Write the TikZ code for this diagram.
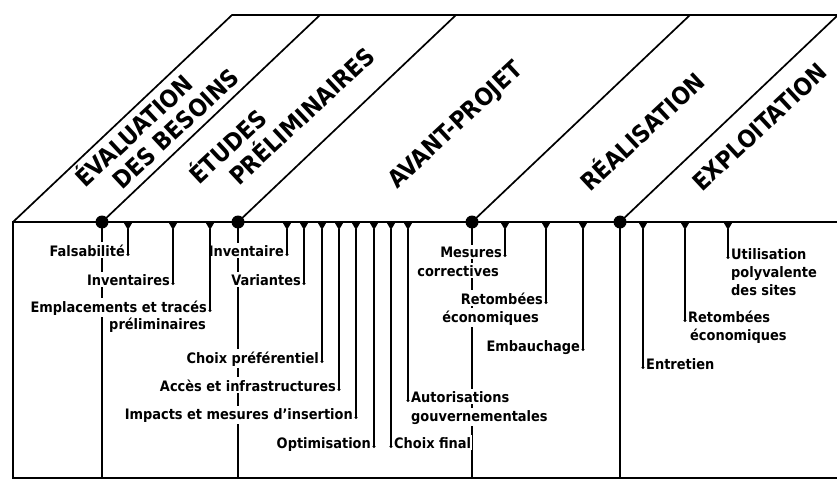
\documentclass[tikz,border=0pt]{standalone}
\usepackage{fontspec}
\setmainfont{DejaVu Sans Condensed}
\usetikzlibrary{arrows.meta}
\begin{document}
\begin{tikzpicture}[x=1pt,y=-1pt,
        frame/.style={line width=2.4pt},
        divider/.style={line width=1.7pt},
        rod/.style={line width=1.2pt},
        milestone/.style={circle, fill=black, minimum size=13pt, inner sep=0pt},
        stage/.style={font=\bfseries\fontsize{24}{28}\selectfont, rotate=43, anchor=base west, inner sep=0pt},
        task/.style={font=\bfseries\fontsize{14.4}{18}\selectfont, fill=white, inner xsep=1pt, inner ysep=2pt},
        stem/.style={line width=1.1pt, {Triangle[reversed, width=9pt, length=8pt]}-{Circle[length=3pt]}},
    ]
    \useasboundingbox[fill=white] (0,0) rectangle (837,481);
    \coordinate (tl) at (13,222);
    \coordinate (tr) at (837,222);
    \coordinate (bl) at (13,478);
    \coordinate (br) at (837,478);
    \coordinate (apex) at (232,15);
    \coordinate (ur) at (837,15);
    \draw[divider] (tl) -- (apex) -- (ur);
    \draw[frame] (tr) -- (tl) -- (bl) -- (br);

    \node[milestone] (m1) at (102,222) {};
    \node[milestone] (m2) at (238,222) {};
    \node[milestone] (m3) at (472,222) {};
    \node[milestone] (m4) at (620,222) {};
    \draw[divider] (m1.center) -- ++(218,-207);
    \draw[divider] (m2.center) -- ++(218,-207);
    \draw[divider] (m3.center) -- ++(218,-207);
    \draw[divider] (m4.center) -- ++(218,-207);
    \draw[rod] (m1.center) -- (m1 |- bl);
    \draw[rod] (m2.center) -- (m2 |- bl);
    \draw[rod] (m3.center) -- (m3 |- bl);
    \draw[rod] (m4.center) -- (m4 |- bl);

    \node[stage] (besoins1) at (85,189) {ÉVALUATION};
    \node[stage] (besoins2) at (122,191) {DES BESOINS};
    \node[stage] (etudes1) at (199,186) {ÉTUDES};
    \node[stage] (etudes2) at (239,187) {PRÉLIMINAIRES};
    \node[stage] (avant) at (397,190) {AVANT-PROJET};
    \node[stage] (realis) at (590,193) {RÉALISATION};
    \node[stage] (exploit) at (702,193) {EXPLOITATION};

    \coordinate (t1) at (128,222);
    \coordinate (t2) at (173,222);
    \coordinate (t3) at (210,222);
    \coordinate (t4) at (287,222);
    \coordinate (t5) at (304,222);
    \coordinate (t6) at (322,222);
    \coordinate (t7) at (339,222);
    \coordinate (t8) at (356,222);
    \coordinate (t9) at (374,222);
    \coordinate (t10) at (391,222);
    \coordinate (t11) at (408,222);
    \coordinate (t12) at (505,222);
    \coordinate (t13) at (546,222);
    \coordinate (t14) at (583,222);
    \coordinate (t15) at (643,222);
    \coordinate (t16) at (685,222);
    \coordinate (t17) at (728,222);

    \node[task, anchor=base east, xshift=-2pt] (falsab) at (t1 |- 0,256) {Falsabilité};
    \node[task, anchor=base east, xshift=-2pt] (inventaires) at (t2 |- 0,285) {Inventaires};
    \node[task, anchor=base east, xshift=-2pt] (emplac) at (t3 |- 0,312) {Emplacements et tracés};
    \node[task, anchor=base east] (emplac2) at ([xshift=-1pt, yshift=-17pt]emplac.base east) {préliminaires};
    \node[task, anchor=base east, xshift=-2pt] (inventaire) at (t4 |- 0,256) {Inventaire};
    \node[task, anchor=base east, xshift=-2pt] (variantes) at (t5 |- 0,285) {Variantes};
    \node[task, anchor=base east, xshift=-2pt] (choixpref) at (t6 |- 0,363) {Choix préférentiel};
    \node[task, anchor=base east, xshift=-2pt] (acces) at (t7 |- 0,391) {Accès et infrastructures};
    \node[task, anchor=base east, xshift=-2pt] (impacts) at (t8 |- 0,419) {Impacts et mesures d'insertion};
    \node[task, anchor=base east, xshift=-2pt] (optim) at (t9 |- 0,448) {Optimisation};
    \node[task, anchor=base west, xshift=2pt] (choixfin) at (t10 |- 0,448) {Choix final};
    \node[task, anchor=base west, xshift=2pt] (autoris) at (t11 |- 0,402) {Autorisations};
    \node[task, anchor=base west] (autoris2) at ([yshift=-19pt]autoris.base west) {gouvernementales};
    \node[task, anchor=base east, xshift=-2pt] (mesures) at (t12 |- 0,257) {Mesures};
    \node[task, anchor=base east] (mesures2) at ([xshift=-3pt, yshift=-19pt]mesures.base east) {correctives};
    \node[task, anchor=base east, xshift=-2pt] (retomb) at (t13 |- 0,304) {Retombées};
    \node[task, anchor=base east] (retomb2) at ([xshift=-4pt, yshift=-18pt]retomb.base east) {économiques};
    \node[task, anchor=base east, xshift=-2pt] (embauche) at (t14 |- 0,351) {Embauchage};
    \node[task, anchor=base west, xshift=2pt] (entretien) at (t15 |- 0,369) {Entretien};
    \node[task, anchor=base west, xshift=2pt] (retombexpl) at (t16 |- 0,322) {Retombées};
    \node[task, anchor=base west] (retombexpl2) at ([xshift=2pt, yshift=-18pt]retombexpl.base west) {économiques};
    \node[task, anchor=base west, xshift=2pt] (utilis) at (t17 |- 0,259) {Utilisation};
    \node[task, anchor=base west] (utilis2) at ([yshift=-18pt]utilis.base west) {polyvalente};
    \node[task, anchor=base west] (utilis3) at ([yshift=-18pt]utilis2.base west) {des sites};

    \draw[stem] (t1) -- (t1 |- falsab.base);
    \draw[stem] (t2) -- (t2 |- inventaires.base);
    \draw[stem] (t3) -- (t3 |- emplac.base);
    \draw[stem] (t4) -- (t4 |- inventaire.base);
    \draw[stem] (t5) -- (t5 |- variantes.base);
    \draw[stem] (t6) -- (t6 |- choixpref.base);
    \draw[stem] (t7) -- (t7 |- acces.base);
    \draw[stem] (t8) -- (t8 |- impacts.base);
    \draw[stem] (t9) -- (t9 |- optim.base);
    \draw[stem] (t10) -- (t10 |- choixfin.base);
    \draw[stem] (t11) -- (t11 |- autoris.base);
    \draw[stem] (t12) -- (t12 |- mesures.base);
    \draw[stem] (t13) -- (t13 |- retomb.base);
    \draw[stem] (t14) -- (t14 |- embauche.base);
    \draw[stem] (t15) -- (t15 |- entretien.base);
    \draw[stem] (t16) -- (t16 |- retombexpl.base);
    \draw[stem] (t17) -- (t17 |- utilis.base);
\end{tikzpicture}
\end{document}
